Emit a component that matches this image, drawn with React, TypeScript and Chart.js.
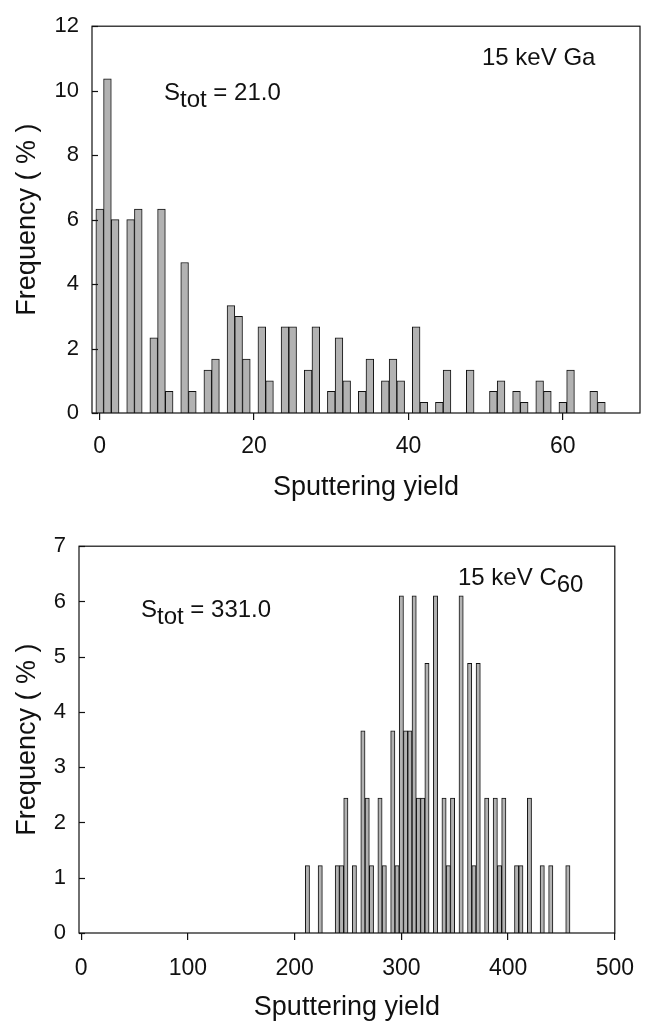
import React, { useEffect, useRef } from 'react';
import { Chart, registerables } from 'chart.js';

Chart.register(...registerables);

// ---------- data ----------
const gaYield = [0, 1, 2, 4, 5, 7, 8, 9, 11, 12, 14, 15, 17, 18, 19, 21, 22, 24, 25, 27, 28, 30, 31, 32, 34, 35, 37, 38, 39, 41, 42, 44, 45, 48, 51, 52, 54, 55, 57, 58, 60, 61, 64, 65];
const gaFreq = [6.33, 10.37, 6.0, 6.0, 6.33, 2.33, 6.33, 0.67, 4.67, 0.67, 1.33, 1.67, 3.33, 3.0, 1.67, 2.67, 1.0, 2.67, 2.67, 1.33, 2.67, 0.67, 2.33, 1.0, 0.67, 1.67, 1.0, 1.67, 1.0, 2.67, 0.33, 0.33, 1.33, 1.33, 0.67, 1.0, 0.67, 0.33, 1.0, 0.67, 0.33, 1.33, 0.67, 0.33];

const c60Yield = [212, 224, 240, 244, 248, 256, 264, 268, 272, 280, 284, 292, 296, 300, 304, 308, 312, 316, 320, 324, 332, 340, 344, 348, 356, 364, 368, 372, 380, 388, 392, 396, 408, 412, 420, 432, 440, 456];
const c60Freq = [1.22, 1.22, 1.22, 1.22, 2.44, 1.22, 3.66, 2.44, 1.22, 2.44, 1.22, 3.66, 1.22, 6.1, 3.66, 3.66, 6.1, 2.44, 2.44, 4.88, 6.1, 2.44, 1.22, 2.44, 6.1, 4.88, 1.22, 4.88, 2.44, 2.44, 1.22, 2.44, 1.22, 1.22, 2.44, 1.22, 1.22, 1.22];

const gaXTicks = [0, 20, 40, 60];
const c60XTicks = [0, 100, 200, 300, 400, 500];
const gaYTicks = [0, 2, 4, 6, 8, 10, 12];
const c60YTicks = [0, 1, 2, 3, 4, 5, 6, 7];

const xTitle = 'Sputtering yield';
const yTitle = 'Frequency ( % )';
const gaNoteIon = [{ t: '15 keV Ga', dy: 0 }];
const gaNoteS = [{ t: 'S', dy: 0 }, { t: 'tot', dy: 7 }, { t: ' = 21.0', dy: 0 }];
const c60NoteIon = [{ t: '15 keV C', dy: 0 }, { t: '60', dy: 7 }];
const c60NoteS = [{ t: 'S', dy: 0 }, { t: 'tot', dy: 7 }, { t: ' = 331.0', dy: 0 }];

// ---------- style ----------
const FAMILY = '"Liberation Sans", Arial, Helvetica, sans-serif';
const INK = '#111111';
const BAR_FILL = '#b2b2b2';

const framePlugin = {
  id: 'frameTicks',
  afterDatasetsDraw(chart: any) {
    const { ctx, chartArea: a, scales } = chart;
    ctx.save();
    ctx.strokeStyle = INK;
    ctx.lineWidth = 1.2;
    ctx.strokeRect(a.left, a.top, a.right - a.left, a.bottom - a.top);
    const y = scales.y;
    y.ticks.forEach((t: any) => {
      const p = Math.round(y.getPixelForValue(t.value)) + 0.5;
      ctx.beginPath();
      ctx.moveTo(a.left, p);
      ctx.lineTo(a.left + 6, p);
      ctx.stroke();
    });
    ctx.restore();
  },
};

const notesPlugin = {
  id: 'notes',
  afterDraw(chart: any, _args: any, opts: any) {
    const { ctx } = chart;
    ctx.save();
    ctx.fillStyle = INK;
    ctx.textBaseline = 'alphabetic';
    ctx.textAlign = 'left';
    (opts.items || []).forEach((item: any) => {
      ctx.font = `${item.size}px ${FAMILY}`;
      let x = item.x;
      item.parts.forEach((p: any) => {
        ctx.fillText(p.t, x, item.y + p.dy);
        x += ctx.measureText(p.t).width;
      });
    });
    ctx.restore();
  },
};

function makeConfig(p: any) {
  return {
    type: 'bar',
    data: {
      datasets: [
        {
          data: p.xs.map((x: number, i: number) => ({ x, y: p.ys[i] })),
          backgroundColor: BAR_FILL,
          borderColor: INK,
          borderWidth: 1,
          borderSkipped: 'bottom',
          barPercentage: 1,
          categoryPercentage: 1,
        },
      ],
    },
    options: {
      animation: false,
      responsive: false,
      maintainAspectRatio: false,
      layout: { padding: { top: p.padTop, right: p.padRight, left: 0, bottom: 0 } },
      plugins: {
        legend: { display: false },
        tooltip: { enabled: false },
        notes: { items: p.notes },
      },
      scales: {
        x: {
          type: 'linear',
          min: p.xMin,
          max: p.xMax,
          offset: false,
          grid: {
            display: true,
            offset: false,
            drawOnChartArea: false,
            drawTicks: true,
            tickLength: 7,
            color: INK,
            lineWidth: 1.2,
          },
          border: { display: false },
          afterBuildTicks: (s: any) => {
            s.ticks = p.xTicks.map((v: number) => ({ value: v }));
          },
          ticks: {
            font: { family: FAMILY, size: 23 },
            color: INK,
            padding: p.xTickPad,
            maxRotation: 0,
            autoSkip: false,
          },
          afterFit: (s: any) => {
            s.height = p.xAxisH;
          },
          title: {
            display: true,
            text: xTitle,
            font: { family: FAMILY, size: 27 },
            color: INK,
            padding: { top: 0, bottom: p.xTitlePadB },
          },
        },
        y: {
          min: p.yMin,
          max: p.yMax,
          afterBuildTicks: (s: any) => {
            s.ticks = p.yTicks.map((v: number) => ({ value: v }));
          },
          ticks: {
            font: { family: FAMILY, size: 22 },
            color: INK,
            padding: 13,
          },
          grid: { display: false, drawTicks: false },
          border: { display: false },
          afterFit: (s: any) => {
            s.width = p.yAxisW;
          },
          title: {
            display: true,
            text: yTitle,
            font: { family: FAMILY, size: 27 },
            color: INK,
            padding: { top: 11, bottom: 0 },
          },
        },
      },
    },
    plugins: [framePlugin, notesPlugin],
  };
}

function BarPanel({ cfg, width, height, top }: any) {
  const ref = useRef<HTMLCanvasElement | null>(null);
  useEffect(() => {
    if (!ref.current) return;
    const chart = new Chart(ref.current, makeConfig(cfg) as any);
    return () => chart.destroy();
  }, [cfg]);
  return (
    <canvas
      ref={ref}
      width={width}
      height={height}
      style={{ position: 'absolute', left: 0, top, width, height, display: 'block' }}
    />
  );
}

const gaCfg = {
  xs: gaYield,
  ys: gaFreq,
  xMin: -1,
  xMax: 70,
  yMin: 0,
  yMax: 12,
  xTicks: gaXTicks,
  yTicks: gaYTicks,
  padTop: 21,
  padRight: 9,
  yAxisW: 92,
  xAxisH: 107,
  xTickPad: 13,
  xTitlePadB: 16,
  notes: [
    { x: 482, y: 65, size: 24, parts: gaNoteIon },
    { x: 164, y: 100, size: 24, parts: gaNoteS },
  ],
};

const c60Cfg = {
  xs: c60Yield,
  ys: c60Freq,
  xMin: -2,
  xMax: 500,
  yMin: 0,
  yMax: 7,
  xTicks: c60XTicks,
  yTicks: c60YTicks,
  padTop: 24,
  padRight: 23,
  yAxisW: 79,
  xAxisH: 91,
  xTickPad: 15,
  xTitlePadB: 0,
  notes: [
    { x: 458, y: 65, size: 24, parts: c60NoteIon },
    { x: 141, y: 97, size: 24, parts: c60NoteS },
  ],
};

export default function App() {
  return (
    <div style={{ position: 'absolute', left: 0, top: 0, width: 649, height: 1024, background: '#ffffff', overflow: 'hidden' }}>
      <BarPanel cfg={gaCfg} width={649} height={520} top={0} />
      <BarPanel cfg={c60Cfg} width={649} height={504} top={520} />
    </div>
  );
}
